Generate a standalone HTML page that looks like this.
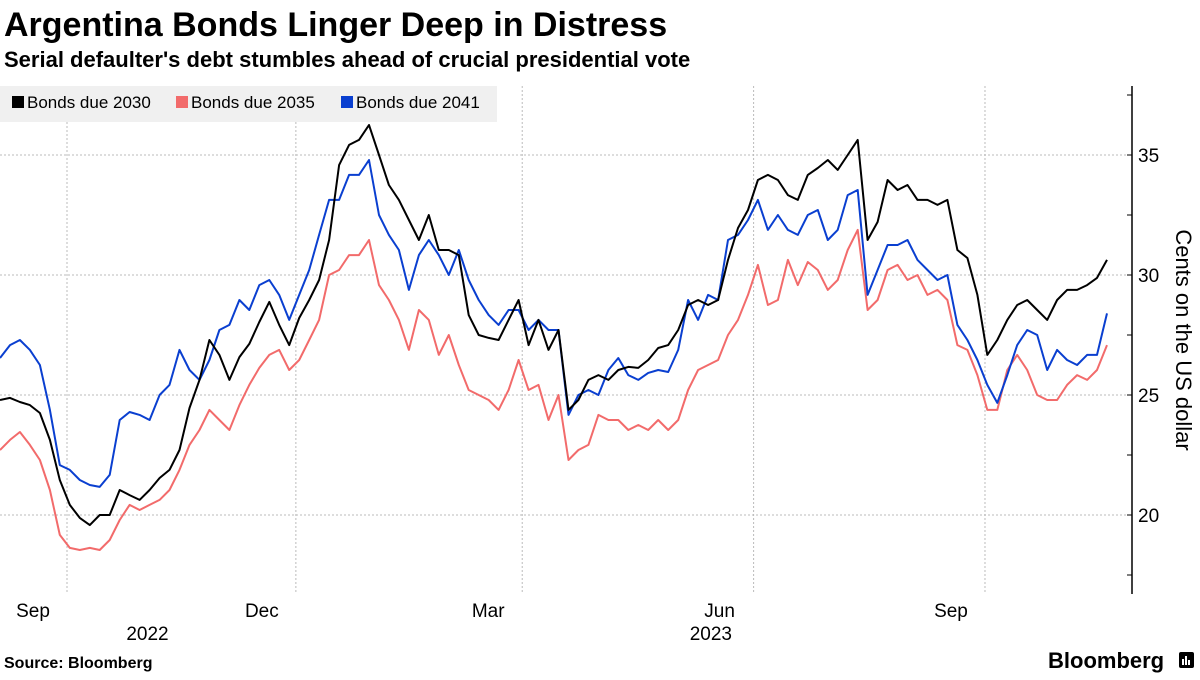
<!DOCTYPE html>
<html><head><meta charset="utf-8"><style>
body{margin:0;width:1200px;height:675px;background:#fff;overflow:hidden;font-family:"Liberation Sans",sans-serif;}
</style></head><body>
<svg width="1200" height="675" xmlns="http://www.w3.org/2000/svg" style="font-family:'Liberation Sans',sans-serif">
<text x="4" y="36" font-size="34" font-weight="bold" fill="#000">Argentina Bonds Linger Deep in Distress</text>
<text x="4" y="67" font-size="22" font-weight="bold" fill="#000">Serial defaulter's debt stumbles ahead of crucial presidential vote</text>
<g id="grid"></g>
<g id="series"></g>
<g>
<rect x="0" y="86" width="497" height="36" fill="#f0f0f0"/>
<g><rect x="12" y="96" width="12" height="12" fill="#000"/><text x="27" y="108" font-size="17">Bonds due 2030</text></g>
<g><rect x="176" y="96" width="12" height="12" fill="#f26b6b"/><text x="191" y="108" font-size="17">Bonds due 2035</text></g>
<g><rect x="341" y="96" width="12" height="12" fill="#0a3fd0"/><text x="356" y="108" font-size="17">Bonds due 2041</text></g>
</g>
<text transform="translate(1176,340) rotate(90)" text-anchor="middle" font-size="22">Cents on the US dollar</text>
<text x="4" y="668" font-size="16" font-weight="bold">Source: Bloomberg</text>
<g><text x="1048" y="668" font-size="22" font-weight="bold">Bloomberg</text><rect x="1179" y="652" width="15" height="16" rx="2" fill="#000"/><rect x="1182" y="659" width="2" height="6" fill="#fff"/><rect x="1185" y="656" width="2" height="9" fill="#fff"/><rect x="1188" y="660" width="2" height="5" fill="#fff"/></g>
</svg>
<script>
const yTicks=[20,25,30,35];
const monthLabels=["Sep","Dec","Mar","Jun","Sep"];
const monthDays=[0,91,181,273,365];
const yearLabels=["2022","2023"];
const yearDays=[32,256];
const bonds2030=[24.79,24.88,24.71,24.58,24.25,23.13,21.46,20.42,19.88,19.58,20.0,20.0,21.04,20.83,20.63,21.04,21.54,21.88,22.71,24.46,25.63,27.29,26.67,25.63,26.58,27.13,28.04,28.88,27.92,27.08,28.21,28.96,29.79,31.46,34.58,35.42,35.63,36.25,35.0,33.75,33.13,32.29,31.46,32.5,31.04,31.04,30.83,28.33,27.5,27.38,27.29,28.13,28.96,27.08,28.13,26.88,27.71,24.38,24.79,25.63,25.83,25.63,26.04,26.17,26.13,26.46,26.96,27.08,27.71,28.75,28.96,28.75,28.96,30.63,31.96,32.71,33.96,34.17,33.96,33.33,33.13,34.17,34.46,34.79,34.38,35.0,35.63,31.46,32.21,33.96,33.54,33.75,33.13,33.13,32.92,33.13,31.04,30.71,29.17,26.67,27.29,28.13,28.75,28.96,28.54,28.13,28.96,29.38,29.38,29.58,29.88,30.63];
const bonds2041=[26.54,27.08,27.29,26.88,26.25,24.38,22.08,21.88,21.46,21.25,21.17,21.67,23.96,24.29,24.17,23.96,25.0,25.42,26.88,26.04,25.63,26.46,27.71,27.92,28.96,28.54,29.58,29.79,29.17,28.13,29.17,30.21,31.67,33.13,33.13,34.17,34.17,34.79,32.5,31.67,31.04,29.38,30.83,31.46,30.83,30.0,31.04,29.79,28.96,28.33,27.92,28.54,28.54,27.71,28.13,27.71,27.71,24.17,25.0,25.21,25.0,26.04,26.54,25.83,25.63,25.92,26.04,25.96,26.88,28.96,28.13,29.17,28.96,31.46,31.67,32.29,33.13,31.88,32.5,31.88,31.67,32.5,32.71,31.46,31.88,33.33,33.54,29.17,30.21,31.25,31.25,31.46,30.63,30.21,29.79,30.0,27.92,27.29,26.46,25.42,24.67,25.83,27.08,27.71,27.5,26.04,26.88,26.46,26.25,26.67,26.67,28.4];
const bonds2035=[22.71,23.13,23.46,22.92,22.29,21.04,19.17,18.63,18.54,18.63,18.54,18.96,19.79,20.42,20.21,20.42,20.63,21.04,21.88,22.92,23.54,24.38,23.96,23.54,24.58,25.42,26.13,26.67,26.88,26.04,26.46,27.29,28.13,30.0,30.21,30.83,30.83,31.46,29.58,28.96,28.13,26.88,28.54,28.13,26.67,27.5,26.25,25.21,25.0,24.79,24.38,25.21,26.46,25.21,25.42,23.96,25.0,22.29,22.71,22.92,24.17,23.96,23.96,23.54,23.75,23.54,23.96,23.54,23.96,25.21,26.04,26.25,26.46,27.5,28.13,29.17,30.42,28.75,28.96,30.63,29.58,30.54,30.21,29.38,29.79,31.04,31.88,28.54,28.96,30.21,30.42,29.79,30.0,29.17,29.38,28.96,27.08,26.88,25.83,24.38,24.38,26.04,26.67,26.04,25.0,24.79,24.79,25.42,25.83,25.63,26.04,27.08];
const NS="http://www.w3.org/2000/svg";
const X0=0,X1=1107,AX=1132,TOP=86,BOT=594;
const yS=v=>155-(v-35)*24;
const dayX=d=>67+d*2.515;
const idxX=(i,n)=>X0+i*(X1-X0)/(n-1);
const grid=document.getElementById('grid');
function mk(tag,attrs,parent){const e=document.createElementNS(NS,tag);for(const k in attrs)e.setAttribute(k,attrs[k]);parent.appendChild(e);return e;}
yTicks.forEach(t=>{
 const l=mk('line',{x1:0,x2:AX,y1:yS(t),y2:yS(t),stroke:'#bbb','stroke-dasharray':'2,2'},grid);
 
 
 const tx=mk('text',{x:AX+6,y:yS(t)+7,'font-size':19},grid);tx.textContent=t;
 
 
});
for(let v=17.5;v<=37.5;v+=2.5){mk('line',{x1:AX-5,x2:AX,y1:yS(v),y2:yS(v),stroke:'#000'},grid);}
monthDays.forEach((d,i)=>{
 const x=dayX(d);
 const l=mk('line',{x1:x,x2:x,y1:TOP,y2:BOT,stroke:'#bbb','stroke-dasharray':'2,2'},grid);
 
 
 const tx=mk('text',{x:x-34,y:617,'font-size':19,'text-anchor':'middle'},grid);tx.textContent=monthLabels[i];
 
 
});
yearDays.forEach((d,i)=>{
 const tx=mk('text',{x:dayX(d),y:640,'font-size':19,'text-anchor':'middle'},grid);tx.textContent=yearLabels[i];
 
 
});
const ax=mk('line',{x1:AX,x2:AX,y1:TOP,y2:BOT,stroke:'#000','stroke-width':1.5},grid);


const sg=document.getElementById('series');
[[bonds2035,'#f26b6b','line-2035'],[bonds2041,'#0a3fd0','line-2041'],[bonds2030,'#000','line-2030']].forEach(([arr,c,name])=>{
 const d=arr.map((v,i)=>(i?'L':'M')+idxX(i,arr.length).toFixed(1)+','+yS(v).toFixed(1)).join('');
 const p=mk('path',{d:d,fill:'none',stroke:c,'stroke-width':2,'stroke-linejoin':'round'},sg);
 
 
});
</script>
</body></html>
